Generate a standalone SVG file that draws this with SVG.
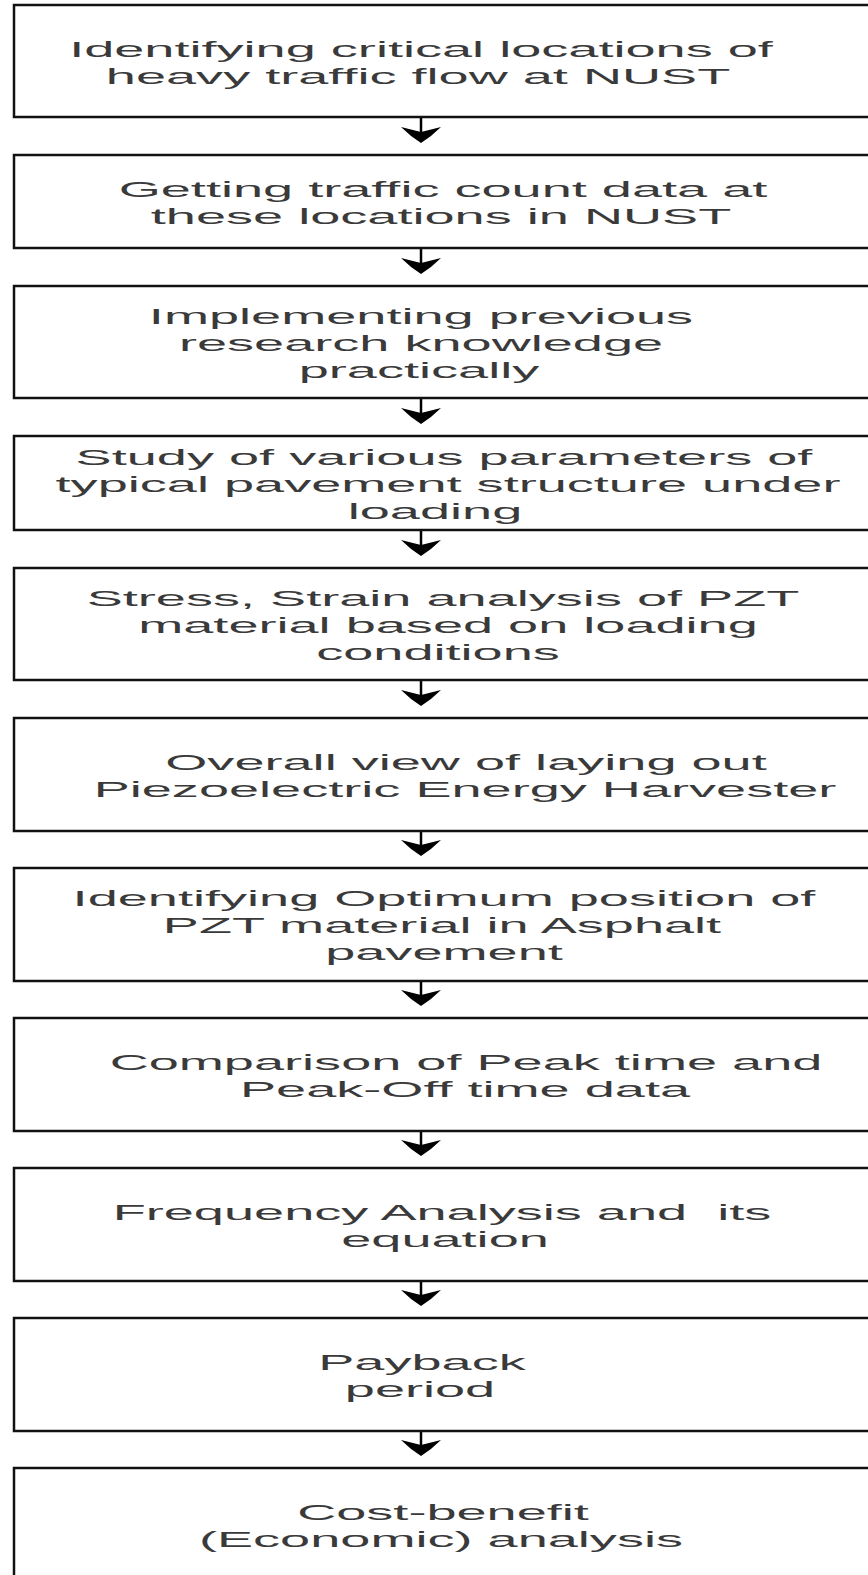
<svg xmlns="http://www.w3.org/2000/svg" width="868" height="1575" viewBox="0 0 868 1575">
<style>
.box{fill:#ffffff;stroke:#111111;stroke-width:2.5}
.t{font-family:"Liberation Sans",Arial,sans-serif;font-size:22px;fill:#3a3a3a;text-anchor:middle}
.c{stroke:#000000;stroke-width:2.5;fill:none}
</style>
<defs>
<marker id="ah" markerUnits="userSpaceOnUse" viewBox="0 -21 16 42" refX="10" refY="0" markerWidth="16" markerHeight="42" orient="auto">
<path d="M0,-20 Q9,-11 16,0 Q9,11 0,20 L5,0 Z" fill="#000000"/>
</marker>
</defs>
<rect width="868" height="1575" fill="#ffffff"/>
<g id="connectors">
<line class="c" x1="421" y1="117" x2="421" y2="137" marker-end="url(#ah)"/>
<line class="c" x1="421" y1="248" x2="421" y2="268" marker-end="url(#ah)"/>
<line class="c" x1="421" y1="398" x2="421" y2="418" marker-end="url(#ah)"/>
<line class="c" x1="421" y1="530" x2="421" y2="550" marker-end="url(#ah)"/>
<line class="c" x1="421" y1="680" x2="421" y2="700" marker-end="url(#ah)"/>
<line class="c" x1="421" y1="831" x2="421" y2="850" marker-end="url(#ah)"/>
<line class="c" x1="421" y1="981" x2="421" y2="1000" marker-end="url(#ah)"/>
<line class="c" x1="421" y1="1131" x2="421" y2="1150" marker-end="url(#ah)"/>
<line class="c" x1="421" y1="1281" x2="421" y2="1300" marker-end="url(#ah)"/>
<line class="c" x1="421" y1="1431" x2="421" y2="1450" marker-end="url(#ah)"/>
</g>
<g id="n1">
<rect class="box" x="14" y="5" width="900" height="112"/>
<text class="t" transform="translate(421,56.5) scale(2.46,1)">Identifying critical locations of</text>
<text class="t" transform="translate(418,83.5) scale(2.46,1)">heavy traffic flow at NUST</text>
</g>
<g id="n2">
<rect class="box" x="14" y="155" width="900" height="93"/>
<text class="t" transform="translate(443,197) scale(2.46,1)">Getting traffic count data at</text>
<text class="t" transform="translate(441,224) scale(2.46,1)">these locations in NUST</text>
</g>
<g id="n3">
<rect class="box" x="14" y="286" width="900" height="112"/>
<text class="t" transform="translate(421,323.5) scale(2.46,1)">Implementing previous</text>
<text class="t" transform="translate(421,350.5) scale(2.46,1)">research knowledge</text>
<text class="t" transform="translate(419,377.5) scale(2.46,1)">practically</text>
</g>
<g id="n4">
<rect class="box" x="14" y="436" width="900" height="94"/>
<text class="t" transform="translate(444,464.5) scale(2.46,1)">Study of various parameters of</text>
<text class="t" transform="translate(448,491.5) scale(2.46,1)">typical pavement structure under</text>
<text class="t" transform="translate(435,518.5) scale(2.46,1)">loading</text>
</g>
<g id="n5">
<rect class="box" x="14" y="568" width="900" height="112"/>
<text class="t" transform="translate(443,605.5) scale(2.46,1)">Stress, Strain analysis of PZT</text>
<text class="t" transform="translate(448,632.5) scale(2.46,1)">material based on loading</text>
<text class="t" transform="translate(438,659.5) scale(2.46,1)">conditions</text>
</g>
<g id="n6">
<rect class="box" x="14" y="718" width="900" height="113"/>
<text class="t" transform="translate(466,770) scale(2.46,1)">Overall view of laying out</text>
<text class="t" transform="translate(465,797) scale(2.46,1)">Piezoelectric Energy Harvester</text>
</g>
<g id="n7">
<rect class="box" x="14" y="868" width="900" height="113"/>
<text class="t" transform="translate(444,906) scale(2.46,1)">Identifying Optimum position of</text>
<text class="t" transform="translate(442,933) scale(2.46,1)">PZT material in Asphalt</text>
<text class="t" transform="translate(444,960) scale(2.46,1)">pavement</text>
</g>
<g id="n8">
<rect class="box" x="14" y="1018" width="900" height="113"/>
<text class="t" transform="translate(466,1070) scale(2.46,1)">Comparison of Peak time and</text>
<text class="t" transform="translate(465,1097) scale(2.46,1)">Peak-Off time data</text>
</g>
<g id="n9">
<rect class="box" x="14" y="1168" width="900" height="113"/>
<text class="t" transform="translate(442,1220) scale(2.46,1)" xml:space="preserve">Frequency Analysis and  its</text>
<text class="t" transform="translate(445,1247) scale(2.46,1)">equation</text>
</g>
<g id="n10">
<rect class="box" x="14" y="1318" width="900" height="113"/>
<text class="t" transform="translate(422,1370) scale(2.46,1)">Payback</text>
<text class="t" transform="translate(420,1397) scale(2.46,1)">period</text>
</g>
<g id="n11">
<rect class="box" x="14" y="1468" width="900" height="113"/>
<text class="t" transform="translate(443,1520) scale(2.46,1)">Cost-benefit</text>
<text class="t" transform="translate(441,1547) scale(2.46,1)">(Economic) analysis</text>
</g>
</svg>
